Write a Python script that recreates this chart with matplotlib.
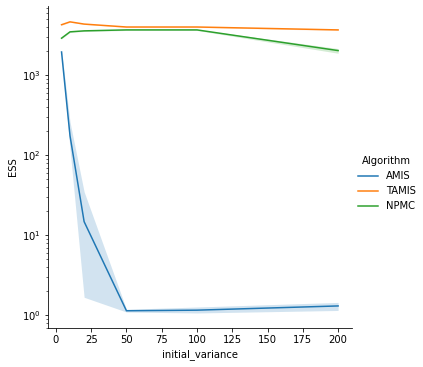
import matplotlib.pyplot as plt
import numpy as np

# values (mean + CI band) per algorithm
initial_variance = [4, 10, 20, 50, 100, 200]
algorithms = ["AMIS", "TAMIS", "NPMC"]
colors = ["#1f77b4", "#ff7f0e", "#2ca02c"]

ess_mean = {
    "AMIS": [1950, 175, 14.8, 1.14, 1.16, 1.31],
    "TAMIS": [4270, 4640, 4350, 4000, 4000, 3680],
    "NPMC": [2900, 3480, 3580, 3680, 3680, 2030],
}
ess_low = {
    "AMIS": [1850, 120, 1.68, 1.10, 1.07, 1.15],
    "TAMIS": [4200, 4580, 4300, 3950, 3950, 3620],
    "NPMC": [2850, 3420, 3520, 3620, 3620, 1880],
}
ess_high = {
    "AMIS": [2050, 260, 35, 1.19, 1.27, 1.45],
    "TAMIS": [4340, 4700, 4400, 4050, 4050, 3740],
    "NPMC": [2950, 3540, 3640, 3740, 3740, 2150],
}

fig = plt.figure(figsize=(423 / 72, 367 / 72), dpi=72)
ax = fig.add_axes([0.1128, 0.107, 0.7192, 0.877])

handles = []
for name, c in zip(algorithms, colors):
    (h,) = ax.plot(initial_variance, ess_mean[name], color=c, lw=1.5, label=name)
    ax.fill_between(initial_variance, ess_low[name], ess_high[name],
                    color=c, alpha=0.2, lw=0)
    handles.append(h)

ax.set_yscale("log")
ax.set_ylim(10 ** -0.155, 10 ** 3.866)
ax.set_xlim(-5.8, 209.8)
ax.set_xticks([0, 25, 50, 75, 100, 125, 150, 175, 200])
ax.set_xlabel("initial_variance")
ax.set_ylabel("ESS")
ax.spines["top"].set_visible(False)
ax.spines["right"].set_visible(False)

fig.legend(handles, algorithms, title="Algorithm", frameon=False,
           loc="center left", bbox_to_anchor=(0.825, 0.50))

fig.savefig("out.png", dpi=72)
